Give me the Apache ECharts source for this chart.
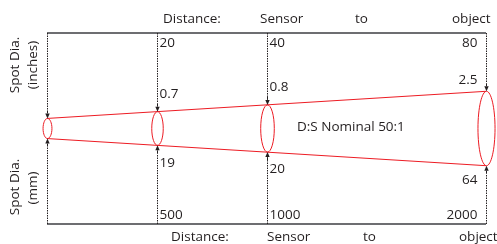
<!DOCTYPE html>
<html>
<head>
<meta charset="utf-8">
<style>
  html, body { margin: 0; padding: 0; background: #fff; }
  #main { width: 497px; height: 244px; }
</style>
<script src="https://cdn.jsdelivr.net/npm/echarts@6/dist/echarts.min.js"></script>
</head>
<body>
<div id="main"></div>
<script>
// stations along the beam, distance from sensor in inches
var distIn = [0, 20, 40, 80];
var distInLabels = ['', '20', '40', '80'];
var spotInLabels = ['', '0.7', '0.8', '2.5'];
var distMmLabels = ['', '500', '1000', '2000'];
var spotMmLabels = ['', '19', '20', '64'];
var axisWords = ['Distance:', 'Sensor', 'to', 'object'];
var ratioText = 'D:S Nominal 50:1';

// diagram geometry (schematic units, not to scale)
var frame = 95;
var coneStart = 10, coneEnd = 37;
function coneHalf(d) { return coneStart + (coneEnd - coneStart) * d / 80; }

var ink = '#231f20';
var red = '#ed1c24';
var font = '13.5px "Open Sans", sans-serif';

var chartDom = document.getElementById('main');
var myChart = echarts.init(chartDom, null, { renderer: 'canvas' });

var stationData = distIn.map(function (d) { return [d, coneHalf(d)]; });

function renderStation(params, api) {
  var i = params.dataIndex;
  var d = api.value(0), h = api.value(1);
  var topP = api.coord([d, frame]);
  var botP = api.coord([d, -frame]);
  var tipT = api.coord([d, h]);
  var tipB = api.coord([d, -h]);
  var x = Math.round(topP[0]) + 0.5;
  var ry = tipB[1] - (tipT[1] + tipB[1]) / 2;
  var rx = 1.4 * Math.sqrt(ry);
  var last = i === distIn.length - 1;
  var head = 5, stem = 3;
  var dash = { stroke: ink, lineWidth: 1, lineDash: [1.5, 1] };
  var kids = [];

  // spot ellipse
  kids.push({
    type: 'ellipse',
    shape: { cx: x, cy: (tipT[1] + tipB[1]) / 2, rx: rx, ry: ry },
    style: { fill: 'none', stroke: red, lineWidth: 1 }
  });
  // upper dashed leader + arrow
  kids.push({ type: 'line', shape: { x1: x, y1: topP[1], x2: x, y2: tipT[1] - head - stem }, style: dash });
  kids.push({ type: 'line', shape: { x1: x, y1: tipT[1] - head - stem, x2: x, y2: tipT[1] - head }, style: { stroke: ink, lineWidth: 1 } });
  kids.push({ type: 'polygon', shape: { points: [[x, tipT[1]], [x - 2.2, tipT[1] - head], [x + 2.2, tipT[1] - head]] }, style: { fill: ink } });
  // lower dashed leader + arrow
  kids.push({ type: 'line', shape: { x1: x, y1: botP[1], x2: x, y2: tipB[1] + head + stem }, style: dash });
  kids.push({ type: 'line', shape: { x1: x, y1: tipB[1] + head + stem, x2: x, y2: tipB[1] + head }, style: { stroke: ink, lineWidth: 1 } });
  kids.push({ type: 'polygon', shape: { points: [[x, tipB[1]], [x - 2.2, tipB[1] + head], [x + 2.2, tipB[1] + head]] }, style: { fill: ink } });

  if (distInLabels[i]) {
    var tx = last ? x - 9 : x + 2;
    var al = last ? 'right' : 'left';
    var lbl = function (txt, y) {
      return { type: 'text', x: tx, y: y, style: { text: txt, fill: ink, font: font, align: al, verticalAlign: 'middle' } };
    };
    kids.push(lbl(distInLabels[i], topP[1] + 10.5));
    kids.push(lbl(spotInLabels[i], tipT[1] - (last ? 11 : 17.5)));
    kids.push(lbl(spotMmLabels[i], tipB[1] + (last ? 14 : 17.5)));
    kids.push(lbl(distMmLabels[i], botP[1] - 9));
  }
  return { type: 'group', children: kids };
}

function word(txt, left, y) {
  return { type: 'text', left: left, top: y - 9, style: { text: txt, fill: ink, font: font } };
}
function vword(txt, cx, cy) {
  return {
    type: 'text', x: cx, y: cy, rotation: Math.PI / 2,
    style: { text: txt, fill: ink, font: font, align: 'center', verticalAlign: 'middle' }
  };
}

var option = {
  animation: false,
  backgroundColor: '#fff',
  grid: { left: 47, right: 11, top: 33, bottom: 20 },
  xAxis: { type: 'value', min: 0, max: 80, show: false },
  yAxis: { type: 'value', min: -frame, max: frame, show: false },
  graphic: [
    word(axisWords[0], 163, 21), word(axisWords[1], 260, 21), word(axisWords[2], 355, 21), word(axisWords[3], 452, 21),
    word(axisWords[0], 171, 239), word(axisWords[1], 267, 239), word(axisWords[2], 363, 239), word(axisWords[3], 459, 239),
    vword('Spot Dia.', 15, 65), vword('(inches)', 33, 65),
    vword('Spot Dia.', 15, 187), vword('(mm)', 33, 188),
    word(ratioText, 297, 129)
  ],
  series: [
    {
      type: 'line', symbol: 'none', silent: true,
      lineStyle: { color: '#6d6e71', width: 2 },
      data: [[0, frame], [80, frame]]
    },
    {
      type: 'line', symbol: 'none', silent: true,
      lineStyle: { color: '#6d6e71', width: 2 },
      data: [[0, -frame], [80, -frame]]
    },
    {
      type: 'line', symbol: 'none', silent: true,
      lineStyle: { color: red, width: 1 },
      data: [[0, coneHalf(0)], [80, coneHalf(80)]]
    },
    {
      type: 'line', symbol: 'none', silent: true,
      lineStyle: { color: red, width: 1 },
      data: [[0, -coneHalf(0)], [80, -coneHalf(80)]]
    },
    {
      type: 'custom', silent: true,
      renderItem: renderStation,
      data: stationData,
      z: 5
    }
  ]
};

option && myChart.setOption(option);
</script>
</body>
</html>
